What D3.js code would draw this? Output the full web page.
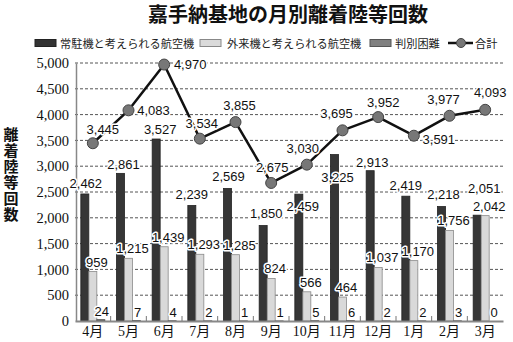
<!DOCTYPE html>
<html>
<head>
<meta charset="utf-8">
<script src="https://cdn.jsdelivr.net/npm/d3@7"></script>
<style>
  html, body { margin: 0; padding: 0; background: #fff; }
  svg { display: block; }
  .num { font-family: "Liberation Sans Narrow", "Liberation Sans", Arial, sans-serif; font-size: 13px; fill: #111; }
  .halo { paint-order: stroke; stroke: #fff; stroke-width: 3px; stroke-linejoin: round; }
</style>
</head>
<body>
<svg id="chart" width="513" height="342"></svg>
<script>
// 嘉手納基地の月別離着陸等回数
const months = ["4月", "5月", "6月", "7月", "8月", "9月", "10月", "11月", "12月", "1月", "2月", "3月"];
const residentAircraft = [2462, 2861, 3527, 2239, 2569, 1850, 2459, 3225, 2913, 2419, 2218, 2051];
const visitingAircraft = [959, 1215, 1439, 1293, 1285, 824, 566, 464, 1037, 1170, 1756, 2042];
const unidentified = [24, 7, 4, 2, 1, 1, 5, 6, 2, 2, 3, 0];
const totals = [3445, 4083, 4970, 3534, 3855, 2675, 3030, 3695, 3952, 3591, 3977, 4093];
const yTicks = [0, 500, 1000, 1500, 2000, 2500, 3000, 3500, 4000, 4500, 5000];
const legendLabels = ["常駐機と考えられる航空機", "外来機と考えられる航空機", "判別困難", "合計"];

// label nudges for the total line, [dx, dy] from each point
const totalLabelPos = [[10, -14], [25, 0], [26, 0], [2, -15], [4, -17], [1, -16],
                       [-4, -16], [-6, -17], [5, -15], [25, 4], [-6, -16], [5, -17]];
// label nudges for the resident-aircraft bars, [dx, baseline offset from bar top]
const residentLabelPos = [[1, -6], [3, -4], [4, -5], [0, -6], [1, -7], [3, -8],
                          [4, 17], [3, 27], [2, -4], [0, -6], [2, -8], [7, -22]];

const svg = d3.select("#chart");
const plotLeft = 75, plotRight = 503, plotTop = 63, plotBottom = 321;

const x = d3.scaleBand().domain(months).range([plotLeft, plotRight]).paddingInner(0).paddingOuter(0);
const y = d3.scaleLinear().domain([0, 5000]).range([plotBottom, plotTop]);
const cx = m => x(m) + x.bandwidth() / 2;
const barW = 8;

// title
svg.append("text")
  .attr("x", 288).attr("y", 22)
  .attr("text-anchor", "middle")
  .style("font-family", "'Noto Sans CJK JP', sans-serif")
  .style("font-size", "20px").style("font-weight", "bold").style("fill", "#111")
  .text("嘉手納基地の月別離着陸等回数");

// legend
const lg = svg.append("g").style("font-family", "'Noto Sans CJK JP', sans-serif").style("font-size", "11.2px");
const swatches = [
  { x: 35, fill: "#333", stroke: "#222", text: legendLabels[0], tx: 60 },
  { x: 200, fill: "#dadada", stroke: "#888", text: legendLabels[1], tx: 227 },
  { x: 370, fill: "#808080", stroke: "#555", text: legendLabels[2], tx: 395 }
];
swatches.forEach(s => {
  lg.append("rect").attr("x", s.x).attr("y", 39.5).attr("width", 21).attr("height", 7)
    .attr("fill", s.fill).attr("stroke", s.stroke).attr("stroke-width", 1);
  lg.append("text").attr("x", s.tx).attr("y", 47.5).style("fill", "#222").text(s.text);
});
lg.append("line").attr("x1", 448).attr("x2", 473).attr("y1", 43).attr("y2", 43)
  .attr("stroke", "#111").attr("stroke-width", 2.5);
lg.append("circle").attr("cx", 461).attr("cy", 43).attr("r", 4.5)
  .attr("fill", "#777").attr("stroke", "#444");
lg.append("text").attr("x", 475).attr("y", 47.5).style("fill", "#222").text(legendLabels[3]);

// gridlines
svg.append("g")
  .selectAll("line").data(yTicks.filter(d => d > 0)).join("line")
  .attr("x1", plotLeft).attr("x2", plotRight)
  .attr("y1", d => y(d)).attr("y2", d => y(d))
  .attr("stroke", "#555").attr("stroke-width", 1).attr("stroke-dasharray", "3,2");

// y axis
const yAxis = d3.axisLeft(y).tickValues(yTicks).tickSize(0).tickPadding(7).tickFormat(d3.format(","));
const yg = svg.append("g").attr("transform", `translate(${plotLeft + 1},0)`).call(yAxis);
yg.select(".domain").attr("stroke", "#888").attr("stroke-width", 1.5);
yg.selectAll("text")
  .style("font-family", "'Liberation Serif', 'DejaVu Serif', serif")
  .style("font-size", "14.5px").style("fill", "#111");

// y axis title, written vertically
svg.append("text")
  .attr("x", 11).attr("y", 127)
  .style("writing-mode", "vertical-rl")
  .style("text-orientation", "upright")
  .style("letter-spacing", "1px")
  .style("font-family", "'Noto Sans CJK JP', sans-serif")
  .style("font-size", "15px").style("font-weight", "bold").style("fill", "#111")
  .text("離着陸等回数");

// bars
const series = [
  { values: residentAircraft, off: -12, fill: "#363636", stroke: "#222" },
  { values: visitingAircraft, off: -4, fill: "#d9d9d9", stroke: "#8a8a8a" },
  { values: unidentified, off: 4, fill: "#808080", stroke: "#333" }
];
series.forEach(s => {
  svg.append("g").selectAll("rect").data(s.values).join("rect")
    .attr("x", (d, i) => cx(months[i]) + s.off)
    .attr("y", d => y(d))
    .attr("width", barW)
    .attr("height", d => y(0) - y(d))
    .attr("fill", s.fill).attr("stroke", s.stroke).attr("stroke-width", 0.8);
});

// x axis baseline with small ticks at band boundaries
const xAxis = d3.axisBottom(x).tickSize(0).tickPadding(5);
const xg = svg.append("g").attr("transform", `translate(0,${plotBottom})`).call(xAxis);
xg.select(".domain").attr("stroke", "#888").attr("stroke-width", 2);
xg.selectAll("text")
  .style("font-family", "'Liberation Serif', 'Noto Sans CJK JP', serif")
  .style("font-size", "14px").style("fill", "#111");
svg.append("g").selectAll("line").data(months.slice(1)).join("line")
  .attr("x1", d => x(d)).attr("x2", d => x(d))
  .attr("y1", plotBottom).attr("y2", plotBottom - 5)
  .attr("stroke", "#777").attr("stroke-width", 1);

// bar value labels
const fmt = d3.format(",");
svg.append("g").selectAll("text").data(residentAircraft).join("text")
  .attr("class", "num halo")
  .attr("x", (d, i) => cx(months[i]) - 8 + residentLabelPos[i][0])
  .attr("y", (d, i) => y(d) + residentLabelPos[i][1])
  .attr("text-anchor", "middle")
  .text(d => fmt(d));
svg.append("g").selectAll("text").data(visitingAircraft).join("text")
  .attr("class", "num halo")
  .attr("x", (d, i) => cx(months[i]) + 4)
  .attr("y", d => y(d) - 5)
  .attr("text-anchor", "middle")
  .text(d => fmt(d));
svg.append("g").selectAll("text").data(unidentified).join("text")
  .attr("class", "num halo")
  .attr("x", (d, i) => cx(months[i]) + 9)
  .attr("y", d => y(d) - 4)
  .attr("text-anchor", "middle")
  .text(d => fmt(d));

// total line
const line = d3.line().x((d, i) => cx(months[i])).y(d => y(d));
svg.append("path").datum(totals)
  .attr("d", line).attr("fill", "none")
  .attr("stroke", "#111").attr("stroke-width", 2.5).attr("stroke-linejoin", "round");
svg.append("g").selectAll("circle").data(totals).join("circle")
  .attr("cx", (d, i) => cx(months[i])).attr("cy", d => y(d))
  .attr("r", 5.5).attr("fill", "#777").attr("stroke", "#444").attr("stroke-width", 1);
svg.append("g").selectAll("text").data(totals).join("text")
  .attr("class", "num halo")
  .attr("x", (d, i) => cx(months[i]) + totalLabelPos[i][0])
  .attr("y", (d, i) => y(d) + totalLabelPos[i][1])
  .attr("dy", "0.35em")
  .attr("text-anchor", "middle")
  .text(d => fmt(d));
</script>
</body>
</html>
